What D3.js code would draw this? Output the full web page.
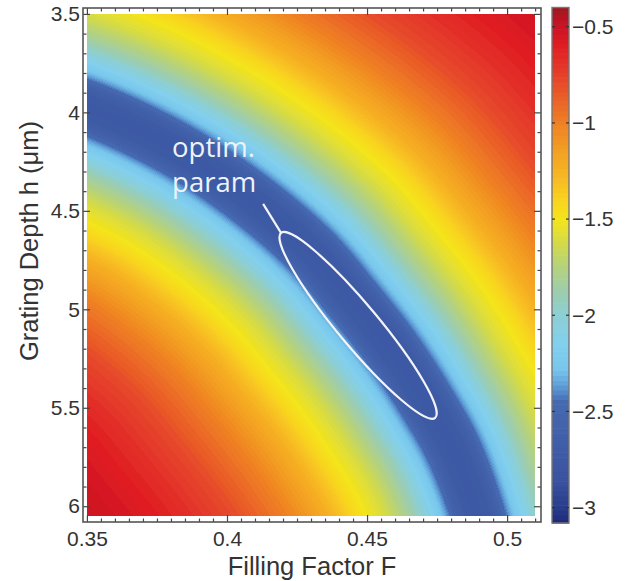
<!DOCTYPE html>
<html><head><meta charset="utf-8">
<script src="https://cdn.jsdelivr.net/npm/d3@7"></script>
<style>
html,body{margin:0;padding:0;background:#fff;}
svg{display:block;}
text{font-family:"Liberation Sans",Arial,Helvetica,sans-serif;fill:#333;}
</style></head><body>
<svg id="chart" width="644" height="581"></svg>
<script>
// ---------------- data ----------------
const xTicks = [0.35, 0.4, 0.45, 0.5];
const xTickLabels = ["0.35", "0.4", "0.45", "0.5"];
const yTicks = [3.5, 4, 4.5, 5, 5.5, 6];
const yTickLabels = ["3.5", "4", "4.5", "5", "5.5", "6"];
const cbTicks = [-3, -2.5, -2, -1.5, -1, -0.5];
const cbTickLabels = ["\u22123", "\u22122.5", "\u22122", "\u22121.5", "\u22121", "\u22120.5"];
const fillFactorRange = [0.35, 0.51];
const depthRange = [3.5, 6.05];
const valueRange = [-3.08, -0.4];

// centre line (minimum) of the dark valley, F and h
const valleyF = [0.2975, 0.319, 0.350, 0.3825, 0.409, 0.4304, 0.445, 0.459, 0.4707, 0.4807, 0.4896, 0.4975];
const valleyH = [3.80, 3.847, 3.976, 4.194, 4.447, 4.71, 4.953, 5.206, 5.459, 5.711, 6.045, 6.47];
// local widening of the valley along the centre line
const valleyStretch = [1.0, 1.0, 1.0, 1.0, 1.02, 1.04, 1.04, 1.04, 1.03, 1.02, 1.0, 1.0];
// value across the valley versus distance from the centre line (in µm of depth)
const profileD = [0, 0.061, 0.10, 0.13, 0.16, 0.20, 0.25, 0.30, 0.37, 0.45, 0.55, 0.71, 0.888, 1.091, 1.32, 1.523, 1.751, 2.132];
const profileV = [-2.75, -2.72, -2.63, -2.47, -2.33, -2.2, -2.05, -1.9, -1.75, -1.6, -1.48, -1.22, -1.0, -0.8, -0.65, -0.55, -0.48, -0.4];

// colour map
const cmapV = [-3.08, -3.0, -2.86, -2.6, -2.45, -2.38, -2.28, -2.15, -2.0, -1.88, -1.75, -1.62, -1.5, -1.4, -1.28, -1.14, -1.0, -0.85, -0.72, -0.6, -0.5, -0.4];
const cmapC = ["#1e2a78", "#283c8c", "#3a52a0", "#4262aa", "#4569b1", "#5a96d2", "#78c6ec", "#82cfee", "#8ccfd4", "#9ccdb0", "#b4d27e", "#d4da48", "#f4e41a", "#f9d41f", "#f7b823", "#f39f22", "#ef8024", "#e95b28", "#e4392a", "#e01e22", "#cc1225", "#9e1820"];
const valueStep = 0.025;

// annotation
const optimTipF = [0.4193, 0.4743];
const optimTipH = [4.612, 5.551];
const optimWidthRatio = 0.17;
const noteLines = ["optim.", "param"];
const noteF = 0.3804;
const noteH = [4.227, 4.405];
const leaderF = [0.4129, 0.4193];
const leaderH = [4.465, 4.612];

// ---------------- layout ----------------
const svg = d3.select("#chart");
const x = d3.scaleLinear().domain([0.3486, 0.5121]).range([83, 541]);
const y = d3.scaleLinear().domain([3.47, 6.08]).range([8, 522]);
const cb = d3.scaleLinear().domain(valueRange).range([523, 7.5]);
const cbX0 = 552, cbX1 = 569;

const color = d3.scaleLinear().domain(cmapV).range(cmapC).interpolate(d3.interpolateRgb).clamp(true);
const pxPerH = y(1) - y(0);
const profile = d3.scaleLinear().domain(profileD.map(d => d * pxPerH)).range(profileV).clamp(true);
const quant = v => Math.round(v / valueStep) * valueStep;

// LUT
const LUTN = 2048;
const lut = new Uint8ClampedArray(LUTN * 3);
for (let k = 0; k < LUTN; k++) {
  const v = valueRange[0] + (valueRange[1] - valueRange[0]) * k / (LUTN - 1);
  const c = d3.rgb(color(v));
  lut[k * 3] = c.r; lut[k * 3 + 1] = c.g; lut[k * 3 + 2] = c.b;
}

// ---------------- field image ----------------
const pathGen = d3.line().curve(d3.curveCatmullRom.alpha(0.5));
const vpts = valleyF.map((f, i) => [x(f), y(valleyH[i])]);
const tmp = svg.append("path").attr("d", pathGen(vpts)).attr("fill", "none").attr("stroke", "none");
const node = tmp.node();
const Ltot = node.getTotalLength();
const cum = [0];
for (let i = 1; i < vpts.length; i++) cum.push(cum[i - 1] + Math.hypot(vpts[i][0] - vpts[i - 1][0], vpts[i][1] - vpts[i - 1][1]));
const stretchAt = d3.scaleLinear().domain(cum.map(c => c / cum[cum.length - 1] * Ltot)).range(valleyStretch);
const N = 500;
const sx = new Float64Array(N), sy = new Float64Array(N), sw = new Float64Array(N);
for (let k = 0; k < N; k++) {
  const s = Ltot * k / (N - 1);
  const p = node.getPointAtLength(s);
  sx[k] = p.x; sy[k] = p.y; sw[k] = stretchAt(s);
}
tmp.remove();

const px0 = Math.round(x(fillFactorRange[0])), px1 = Math.round(x(fillFactorRange[1]));
const py0 = Math.round(y(depthRange[0])), py1 = Math.round(y(depthRange[1]));
const W = px1 - px0, H = py1 - py0;
const canvas = document.createElement("canvas");
canvas.width = W; canvas.height = H;
const ctx = canvas.getContext("2d");
const img = ctx.createImageData(W, H);

function segDist(px, py, a, b) {
  const ax = sx[a], ay = sy[a], bx = sx[b], by = sy[b];
  const dx = bx - ax, dy = by - ay;
  const l2 = dx * dx + dy * dy;
  let t = l2 > 0 ? ((px - ax) * dx + (py - ay) * dy) / l2 : 0;
  t = Math.max(0, Math.min(1, t));
  const qx = ax + t * dx, qy = ay + t * dy;
  return [Math.hypot(px - qx, py - qy), sw[a] + t * (sw[b] - sw[a])];
}

for (let j = 0; j < H; j++) {
  const py = py0 + j + 0.5;
  for (let i = 0; i < W; i++) {
    const px = px0 + i + 0.5;
    let best = Infinity, bi = 0;
    for (let k = 0; k < N; k += 8) {
      const dx = px - sx[k], dy = py - sy[k];
      const d = dx * dx + dy * dy;
      if (d < best) { best = d; bi = k; }
    }
    const lo = Math.max(0, bi - 8), hi = Math.min(N - 1, bi + 8);
    for (let k = lo; k <= hi; k++) {
      const dx = px - sx[k], dy = py - sy[k];
      const d = dx * dx + dy * dy;
      if (d < best) { best = d; bi = k; }
    }
    let r = null;
    if (bi > 0) r = segDist(px, py, bi - 1, bi);
    if (bi < N - 1) {
      const r2 = segDist(px, py, bi, bi + 1);
      if (!r || r2[0] < r[0]) r = r2;
    }
    const v = quant(profile(r[0] / r[1]));
    let k = Math.round((v - valueRange[0]) / (valueRange[1] - valueRange[0]) * (LUTN - 1));
    k = Math.max(0, Math.min(LUTN - 1, k));
    const o = (j * W + i) * 4;
    img.data[o] = lut[k * 3]; img.data[o + 1] = lut[k * 3 + 1]; img.data[o + 2] = lut[k * 3 + 2]; img.data[o + 3] = 255;
  }
}
ctx.putImageData(img, 0, 0);

const defs = svg.append("defs");
defs.append("filter").attr("id", "soft").attr("x", 0).attr("y", 0).attr("width", 1).attr("height", 1)
  .append("feGaussianBlur").attr("stdDeviation", 0.7).attr("edgeMode", "duplicate");

svg.append("image")
  .attr("x", px0).attr("y", py0).attr("width", W).attr("height", H)
  .attr("preserveAspectRatio", "none")
  .attr("filter", "url(#soft)")
  .attr("href", canvas.toDataURL());

// ---------------- frame & ticks ----------------
const [fx0, fx1] = x.range(), [fy0, fy1] = y.range();
const minorX = d3.range(70, 103).map(k => k * 0.005).filter(v => !xTicks.some(t => Math.abs(t - v) < 1e-9));
const minorY = d3.range(35, 61).map(k => k / 10).filter(v => !yTicks.some(t => Math.abs(t - v) < 1e-9));

function styleAxis(g) {
  g.select(".domain").remove();
  g.selectAll(".tick line").attr("stroke", "#444").attr("stroke-width", 1.2);
  g.selectAll("text").attr("font-size", 21).attr("fill", "#333");
}
svg.append("g").attr("transform", `translate(0,${fy1})`)
  .call(d3.axisBottom(x).tickValues(xTicks).tickFormat((d, i) => xTickLabels[i]).tickSize(-7).tickPadding(9)).call(styleAxis);
svg.append("g").attr("transform", `translate(0,${fy1})`)
  .call(d3.axisBottom(x).tickValues(minorX).tickFormat("").tickSize(-3.5)).call(styleAxis);
svg.append("g").attr("transform", `translate(0,${fy0})`)
  .call(d3.axisTop(x).tickValues(xTicks).tickFormat("").tickSize(-7)).call(styleAxis);
svg.append("g").attr("transform", `translate(0,${fy0})`)
  .call(d3.axisTop(x).tickValues(minorX).tickFormat("").tickSize(-3.5)).call(styleAxis);
svg.append("g").attr("transform", `translate(${fx0},0)`)
  .call(d3.axisLeft(y).tickValues(yTicks).tickFormat((d, i) => yTickLabels[i]).tickSize(-7).tickPadding(3)).call(styleAxis);
svg.append("g").attr("transform", `translate(${fx0},0)`)
  .call(d3.axisLeft(y).tickValues(minorY).tickFormat("").tickSize(-3.5)).call(styleAxis);
svg.append("g").attr("transform", `translate(${fx1},0)`)
  .call(d3.axisRight(y).tickValues(yTicks).tickFormat("").tickSize(-7)).call(styleAxis);
svg.append("g").attr("transform", `translate(${fx1},0)`)
  .call(d3.axisRight(y).tickValues(minorY).tickFormat("").tickSize(-3.5)).call(styleAxis);

svg.append("rect").attr("x", fx0).attr("y", fy0).attr("width", fx1 - fx0).attr("height", fy1 - fy0)
  .attr("fill", "none").attr("stroke", "#555").attr("stroke-width", 1.6);

// axis titles
svg.append("text").attr("x", (fx0 + fx1) / 2).attr("y", 575).attr("text-anchor", "middle")
  .attr("font-size", 25.5).text("Filling Factor F");
svg.append("text").attr("transform", "translate(38,241) rotate(-90)").attr("text-anchor", "middle")
  .attr("font-size", 25.5).text("Grating Depth h (\u03bcm)");

// ---------------- annotation ----------------
const t1 = [x(optimTipF[0]), y(optimTipH[0])], t2 = [x(optimTipF[1]), y(optimTipH[1])];
const ecx = (t1[0] + t2[0]) / 2, ecy = (t1[1] + t2[1]) / 2;
const ea = Math.hypot(t2[0] - t1[0], t2[1] - t1[1]) / 2;
const eang = Math.atan2(t2[1] - t1[1], t2[0] - t1[0]) * 180 / Math.PI;
svg.append("ellipse").attr("cx", ecx).attr("cy", ecy).attr("rx", ea).attr("ry", ea * optimWidthRatio)
  .attr("transform", `rotate(${eang},${ecx},${ecy})`)
  .attr("fill", "none").attr("stroke", "#f2f4f8").attr("stroke-width", 2.2);
svg.append("line").attr("x1", x(leaderF[0])).attr("y1", y(leaderH[0])).attr("x2", x(leaderF[1])).attr("y2", y(leaderH[1]))
  .attr("stroke", "#f2f4f8").attr("stroke-width", 2.2);
svg.selectAll("text.note").data(noteLines).join("text").attr("class", "note")
  .attr("x", x(noteF)).attr("y", (d, i) => y(noteH[i]))
  .style("font-family", "'Open Sans', 'Noto Sans', sans-serif").style("fill", "#eef3fa")
  .attr("font-size", 27.5).text(d => d);

// ---------------- colour bar ----------------
const levels = d3.range(Math.round(valueRange[0] / valueStep), Math.round(valueRange[1] / valueStep) + 1).map(k => k * valueStep);
svg.append("g").selectAll("rect").data(levels).join("rect")
  .attr("x", cbX0).attr("width", cbX1 - cbX0)
  .attr("y", d => cb(Math.min(valueRange[1], d + valueStep / 2)))
  .attr("height", d => Math.max(0, cb(Math.max(valueRange[0], d - valueStep / 2)) - cb(Math.min(valueRange[1], d + valueStep / 2))) + 0.6)
  .attr("fill", d => color(d));
svg.append("rect").attr("x", cbX0).attr("y", cb(valueRange[1])).attr("width", cbX1 - cbX0)
  .attr("height", cb(valueRange[0]) - cb(valueRange[1])).attr("fill", "none").attr("stroke", "#777").attr("stroke-width", 1.4);
const cbt = svg.append("g").selectAll("g").data(cbTicks).join("g");
cbt.append("line").attr("x1", cbX0).attr("x2", cbX0 + 3).attr("y1", d => cb(d)).attr("y2", d => cb(d)).attr("stroke", "#333").attr("stroke-width", 1.2);
cbt.append("line").attr("x1", cbX1 - 3).attr("x2", cbX1).attr("y1", d => cb(d)).attr("y2", d => cb(d)).attr("stroke", "#333").attr("stroke-width", 1.2);
cbt.append("text").attr("x", cbX1 + 3).attr("y", d => cb(d)).attr("dy", "0.35em")
  .attr("font-size", 21).text((d, i) => cbTickLabels[i]);
</script>
</body></html>
